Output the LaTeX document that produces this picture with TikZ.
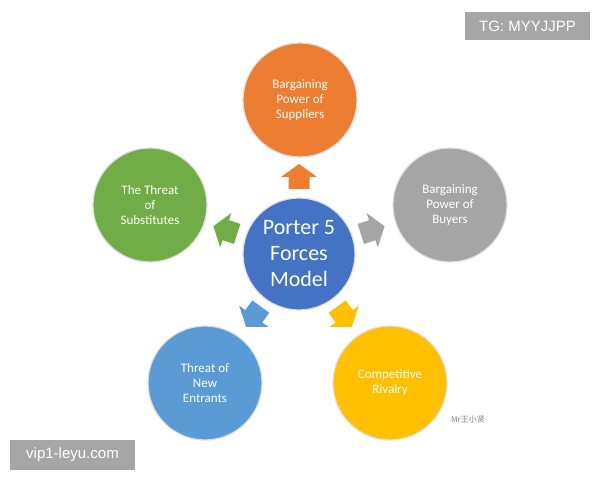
\documentclass[tikz,border=0pt]{standalone}
\usepackage{fontspec}
\setmainfont{Carlito}
\newfontfamily\cjk{Noto Sans CJK SC}
\newfontfamily\wmfont{Liberation Sans}
\begin{document}
\begin{tikzpicture}[x=1pt,y=1pt,
  force/.style={circle,minimum size=114pt,inner sep=0pt,draw=gray!25,line width=1.2pt,text=white,font=\fontsize{13}{15}\selectfont,align=center},
  wm/.style={fill=black!35,text=white,inner sep=0pt,font=\wmfont\fontsize{15}{17}\selectfont}]
\useasboundingbox (0,0) rectangle (600,480);
\fill[white] (0,0) rectangle (600,480);
\definecolor{cor}{HTML}{ED7D31}\definecolor{cgr}{HTML}{A5A5A5}
\definecolor{cye}{HTML}{FFC000}\definecolor{cbl}{HTML}{5B9BD5}
\definecolor{cgn}{HTML}{70AD47}\definecolor{cce}{HTML}{4472C4}
\node[force,fill=cce,minimum size=112pt,font=\fontsize{22}{26}\selectfont] (c) at (299,226) {Porter 5\\Forces\\Model};
\node[force,fill=cor] (sup) at (300,380) {Bargaining\\Power of\\Suppliers};
\node[force,fill=cgr] (buy) at (450,275) {Bargaining\\Power of\\Buyers};
\node[force,fill=cgn] (sub) at (150,275) {The Threat\\of\\Substitutes};
\node[force,fill=cbl] (new) at (205,97) {Threat of\\New\\Entrants};
\node[force,fill=cye] (riv) at (390,97) {Competitive\\Rivalry};
\foreach \a/\col in {90/cor,18/cgr,162/cgn,234/cbl,306/cye}
  \fill[\col,shift={(c.center)},rotate=\a] (65,-10.5)--(77,-10.5)--(77,-18)--(90,0)--(77,18)--(77,10.5)--(65,10.5)--cycle;
\node[wm,minimum width=125pt,minimum height=28pt] (tg) at (527.5,454) {TG: MYYJJPP};
\node[wm,minimum width=125pt,minimum height=30pt] (vip) at (72.5,25) {vip1-leyu.com};
\node[text=gray,font=\cjk\fontsize{8}{9}\selectfont] (mr) at (468,60) {Mr王小贤};
\end{tikzpicture}
\end{document}
